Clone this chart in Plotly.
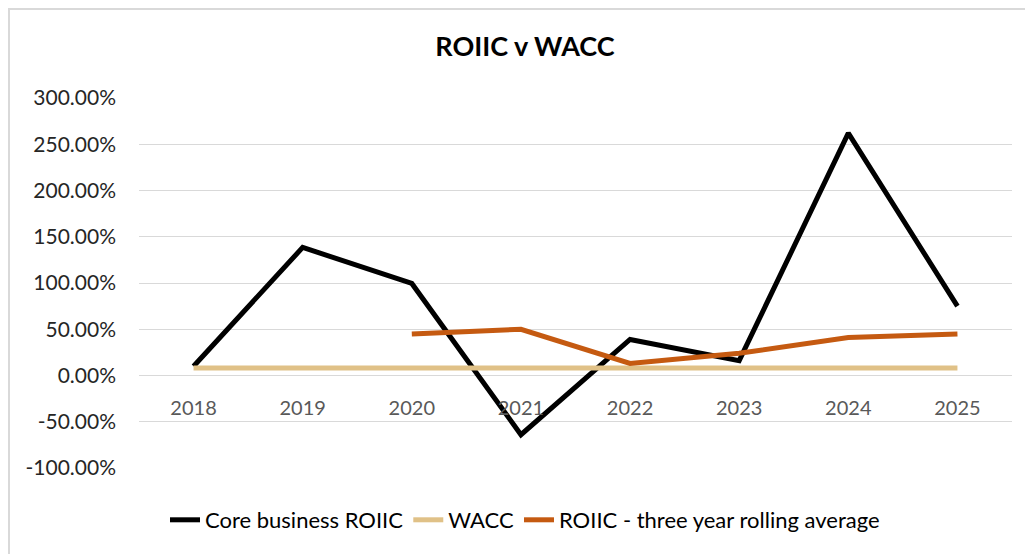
import plotly.graph_objects as go

years = ["2018", "2019", "2020", "2021", "2022", "2023", "2024", "2025"]
core_roiic = [0.10, 1.385, 0.995, -0.64, 0.39, 0.16, 2.62, 0.75]
wacc = [0.08, 0.08, 0.08, 0.08, 0.08, 0.08, 0.08, 0.08]
rolling_avg = [None, None, 0.45, 0.50, 0.13, 0.24, 0.41, 0.45]

y_tick_vals = [-1.0, -0.5, 0.0, 0.5, 1.0, 1.5, 2.0, 2.5, 3.0]
y_tick_text = ["-100.00%", "-50.00%", "0.00%", "50.00%", "100.00%",
               "150.00%", "200.00%", "250.00%", "300.00%"]

# page body adds an 8px offset, so the figure is sized to fit the window
W, H = 1025, 546
ml, mr, mt, mb = 131, 21, 90, 86
y_min, y_max = -1.0, 3.0

fig = go.Figure()
fig.add_trace(go.Scatter(x=years, y=core_roiic, mode="lines", name="Core business ROIIC",
                         line=dict(color="#000000", width=5)))
fig.add_trace(go.Scatter(x=years, y=wacc, mode="lines", name="WACC",
                         line=dict(color="#E0C187", width=5)))
fig.add_trace(go.Scatter(x=years, y=rolling_avg, mode="lines",
                         name="ROIIC - three year rolling average",
                         line=dict(color="#C55A11", width=5)))

zero_frac = (0 - y_min) / (y_max - y_min)
pw = W - ml - mr
ph = H - mt - mb

fig.update_layout(
    width=W, height=H,
    margin=dict(l=ml, r=mr, t=mt, b=mb),
    paper_bgcolor="white", plot_bgcolor="white",
    font=dict(family="Lato, Open Sans, sans-serif", color="#262626"),
    title=dict(text="<b>ROIIC v WACC</b>", x=(525 - 8 - ml) / pw, xanchor="center", xref="paper",
               y=1 - 39 / H, yanchor="middle",
               font=dict(size=27, color="#000000")),
    xaxis=dict(type="category", range=[-0.5, 7.5], showgrid=False, showline=False,
               zeroline=False, anchor="free", position=zero_frac, ticks="",
               ticklabelstandoff=18,
               tickfont=dict(size=20, color="#595959")),
    yaxis=dict(range=[y_min, y_max], tickvals=y_tick_vals, ticktext=y_tick_text,
               showgrid=True, gridcolor="#D9D9D9", gridwidth=1.3, zeroline=False,
               showline=False, ticks="", ticklabelstandoff=22,
               tickfont=dict(size=21, color="#262626")),
    legend=dict(orientation="h", x=(525 - 8 - ml) / pw, xanchor="center",
                y=-(512 - (H - mb)) / ph,
                yanchor="middle", font=dict(size=22, color="#000000"),
                itemwidth=30, traceorder="normal"),
    showlegend=True,
)

# chart area border
fig.add_shape(type="rect", xref="paper", yref="paper",
              x0=(1 - ml) / pw, x1=(W + 10 - ml) / pw,
              y0=-(H + 10 - (H - mb)) / ph, y1=1 + (mt - 1) / ph,
              line=dict(color="#D9D9D9", width=2), layer="below")

fig.write_html("out.html")
